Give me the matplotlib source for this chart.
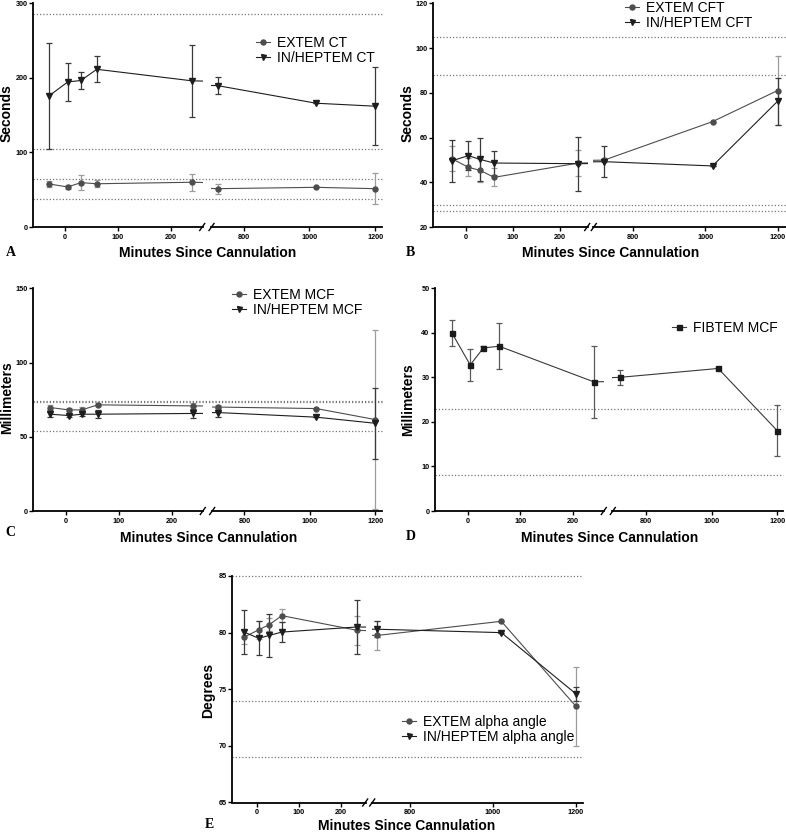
import matplotlib
matplotlib.use("Agg")
import matplotlib.pyplot as plt
import numpy as np

plt.rcParams['font.family'] = ['Liberation Sans', 'DejaVu Sans']

W, H = 786, 834
DPI = 100

# ---------------- data ----------------
times = [-30, 5, 30, 60, 240, 720, 1020, 1200]

# Panel A: CT (seconds)
extem_ct = [57.7, 53.7, 59.5, 58.0, 60.0, 51.4, 53.2, 51.4]
extem_ct_sd = [3.5, 3.0, 10.3, 5.0, 11.4, 6.8, 0.0, 21.0]
hep_ct = [176, 194.5, 196.5, 211.5, 196, 189.6, 166, 162]
hep_ct_sd = [71, 25, 11, 17.5, 48.5, 11, 0.0, 52]
ref_a = [285, 105, 65, 38]

# Panel B: CFT (seconds)
extem_cft = [50.5, 46.7, 45.3, 42.2, 48.6, 49.9, 67.1, 81.0]
extem_cft_sd = [5.5, 4.0, 5.0, 4.0, 6.0, 1.0, 0.0, 15.6]
hep_cft = [49.6, 51.9, 50.2, 48.6, 48.3, 49.2, 47.3, 76.2]
hep_cft_sd = [9.5, 6.4, 9.5, 5.5, 12.0, 7.0, 0.0, 10.4]
ref_b = [105, 88, 30, 27]

# Panel C: MCF (millimeters)
extem_mcf = [69.7, 68.1, 68.1, 71.5, 70.8, 70.0, 69.0, 61.6]
extem_mcf_sd = [1.5, 1.0, 2.0, 1.0, 2.0, 1.5, 0.0, 60.5]
hep_mcf = [65.2, 64.3, 65.2, 65.2, 65.7, 66.3, 63.2, 59.1]
hep_mcf_sd = [2.0, 1.0, 1.5, 2.5, 3.0, 3.0, 0.0, 24.0]
ref_c = [74.3, 73.5, 54]

# Panel D: FIBTEM MCF (millimeters)
fib_mcf = [40.0, 32.8, 36.6, 37.0, 29.0, 30.0, 32.0, 18.0]
fib_mcf_sd = [2.9, 3.6, 0.4, 5.2, 8.1, 1.6, 0.0, 5.7]
ref_d = [23, 8]

# Panel E: alpha angle (degrees)
extem_alpha = [79.6, 80.25, 80.7, 81.5, 80.2, 79.75, 81.0, 73.5]
extem_alpha_sd = [0.6, 0.8, 0.6, 0.6, 1.3, 1.3, 0.0, 3.5]
hep_alpha = [80.05, 79.5, 79.75, 80.05, 80.5, 80.3, 80.0, 74.6]
hep_alpha_sd = [1.95, 1.5, 1.9, 0.9, 2.35, 0.7, 0.0, 0.6]
ref_e = [85, 74, 69]

x_ticks_left = [0, 100, 200]
x_ticks_right = [800, 1000, 1200]

fig = plt.figure(figsize=(W / DPI, H / DPI), dpi=DPI)


def rect(x0, x1, yt, yb):
    return [x0 / W, 1 - yb / H, (x1 - x0) / W, (yb - yt) / H]


C_EXT = '#4d4d4d'
C_EXT_ERR = '#9c9c9c'
C_HEP = '#1e1e1e'
C_HEP_ERR = '#3a3a3a'
MS = 3.6


def draw_series(ax, y, sd, marker, mcol, lcol, ecol):
    ax.errorbar(times, y, yerr=sd, fmt='none', ecolor=ecol, elinewidth=0.9,
                capsize=2.3, capthick=0.9, zorder=2)
    ax.plot(times, y, color=lcol, lw=0.8, zorder=3)
    ax.plot(times, y, linestyle='none', marker=marker, color=mcol,
            markersize=MS + (0.3 if marker == 'v' else 0), zorder=4)


def panel(xl, gapl, xr, yt, yb, left_lim, right_lim, ylim, yticks, refs,
          series, ylabel, ylabel_xy, xlabel_xy, letter, letter_xy, leg_xy):
    axl = fig.add_axes(rect(xl, gapl[0], yt, yb))
    axr = fig.add_axes(rect(gapl[1], xr, yt, yb))
    for ax, lim, ticks in ((axl, left_lim, x_ticks_left), (axr, right_lim, x_ticks_right)):
        ax.set_xlim(*lim)
        ax.set_ylim(*ylim)
        ax.set_xticks(ticks)
        ax.set_xticklabels([str(t) for t in ticks], fontsize=5.2, fontweight='bold')
        ax.spines['top'].set_visible(False)
        ax.spines['right'].set_visible(False)
        ax.spines['bottom'].set_linewidth(1.3)
        ax.tick_params(axis='x', length=3, width=1.0, pad=2)
        ax.patch.set_alpha(0)
    axl.set_yticks(yticks)
    axl.set_yticklabels([str(t) for t in yticks], fontsize=5.2, fontweight='bold')
    axl.spines['left'].set_linewidth(1.3)
    axl.tick_params(axis='y', length=3, width=1.0, pad=1)
    axr.spines['left'].set_visible(False)
    axr.tick_params(axis='y', left=False, labelleft=False)

    # reference lines spanning across the gap
    wl = gapl[0] - xl
    ext = (xr - xl) / wl
    for r in refs:
        axl.axhline(r, xmin=0, xmax=ext, color='#777777', lw=0.9,
                    linestyle=(0, (1, 1.6)), clip_on=False, zorder=1)

    for ax in (axl, axr):
        for s in series:
            draw_series(ax, *s[:6])

    # break marks
    hpx = yb - yt
    dy = 3.5 / hpx
    kw = dict(color='black', lw=1.0, clip_on=False, zorder=6)
    dxl = 5 / wl
    axl.plot([1 - dxl * 0.6, 1 + dxl * 0.4], [-dy, dy], transform=axl.transAxes, **kw)
    dxr = 5 / (xr - gapl[1])
    axr.plot([-dxr * 0.4, dxr * 0.6], [-dy, dy], transform=axr.transAxes, **kw)

    fig.text(ylabel_xy[0] / W, 1 - ylabel_xy[1] / H, ylabel, rotation=90,
             ha='center', va='center', fontsize=10, fontweight='bold')
    fig.text(xlabel_xy[0] / W, 1 - xlabel_xy[1] / H, 'Minutes Since Cannulation',
             ha='center', va='center', fontsize=10, fontweight='bold')
    fig.text(letter_xy[0] / W, 1 - letter_xy[1] / H, letter, ha='center', va='center',
             fontsize=10, fontweight='bold', family='Liberation Serif')
    lines = []
    for s in series:
        h, = axl.plot([], [], color=s[4], lw=0.8, marker=s[2], markersize=MS,
                      markerfacecolor=s[3], markeredgecolor=s[3])
        lines.append(h)
    fig.legend(lines, [s[6] for s in series], loc='upper left',
               bbox_to_anchor=(leg_xy[0] / W, 1 - leg_xy[1] / H),
               frameon=False, fontsize=10, handlelength=1.0, handletextpad=0.5,
               labelspacing=0.05, borderpad=0, borderaxespad=0)
    return axl, axr


# Panel A
panel(33.3, (202.7, 211.0), 381.7, 3.3, 227.0, (-60, 260), (700, 1220), (0, 300),
      [0, 100, 200, 300], ref_a,
      [(extem_ct, extem_ct_sd, 'o', C_EXT, C_EXT, C_EXT_ERR, 'EXTEM CT'),
       (hep_ct, hep_ct_sd, 'v', C_HEP, C_HEP, C_HEP_ERR, 'IN/HEPTEM CT')],
      'Seconds', (7, 113), (207.7, 253), 'A', (11, 253), (256, 36))

# Panel B
panel(433.3, (587.7, 593.3), 785.5, 3.3, 227.0, (-70, 260), (690, 1222), (20, 120),
      [20, 40, 60, 80, 100, 120], ref_b,
      [(extem_cft, extem_cft_sd, 'o', C_EXT, C_EXT, C_EXT_ERR, 'EXTEM CFT'),
       (hep_cft, hep_cft_sd, 'v', C_HEP, C_HEP, C_HEP_ERR, 'IN/HEPTEM CFT')],
      'Seconds', (408, 113), (611, 253), 'B', (410, 253), (625, 1))

# Panel C
panel(33.3, (203.3, 211.7), 381.7, 288.3, 511.0, (-62, 260), (700, 1220), (0, 150),
      [0, 50, 100, 150], ref_c,
      [(extem_mcf, extem_mcf_sd, 'o', C_EXT, C_EXT, C_EXT_ERR, 'EXTEM MCF'),
       (hep_mcf, hep_mcf_sd, 'v', C_HEP, C_HEP, C_HEP_ERR, 'IN/HEPTEM MCF')],
      'Millimeters', (7, 398), (209, 537.7), 'C', (10, 533), (232, 288))

# Panel D
panel(435.0, (604.3, 612.3), 783.3, 288.3, 511.0, (-62, 260), (698, 1218), (0, 50),
      [0, 10, 20, 30, 40, 50], ref_d,
      [(fib_mcf, fib_mcf_sd, 's', '#1a1a1a', '#3a3a3a', '#5a5a5a', 'FIBTEM MCF')],
      'Millimeters', (408, 400), (609.7, 538), 'D', (411, 537), (672, 321))

# Panel E
panel(232.3, (365.7, 371.7), 583.3, 576.0, 802.5, (-58, 260), (707, 1218), (65, 85),
      [65, 70, 75, 80, 85], ref_e,
      [(extem_alpha, extem_alpha_sd, 'o', C_EXT, C_EXT, C_EXT_ERR, 'EXTEM alpha angle'),
       (hep_alpha, hep_alpha_sd, 'v', C_HEP, C_HEP, C_HEP_ERR, 'IN/HEPTEM alpha angle')],
      'Degrees', (208, 690), (406.7, 826), 'E', (209, 825), (402, 715))

fig.savefig('out.png', dpi=DPI)
